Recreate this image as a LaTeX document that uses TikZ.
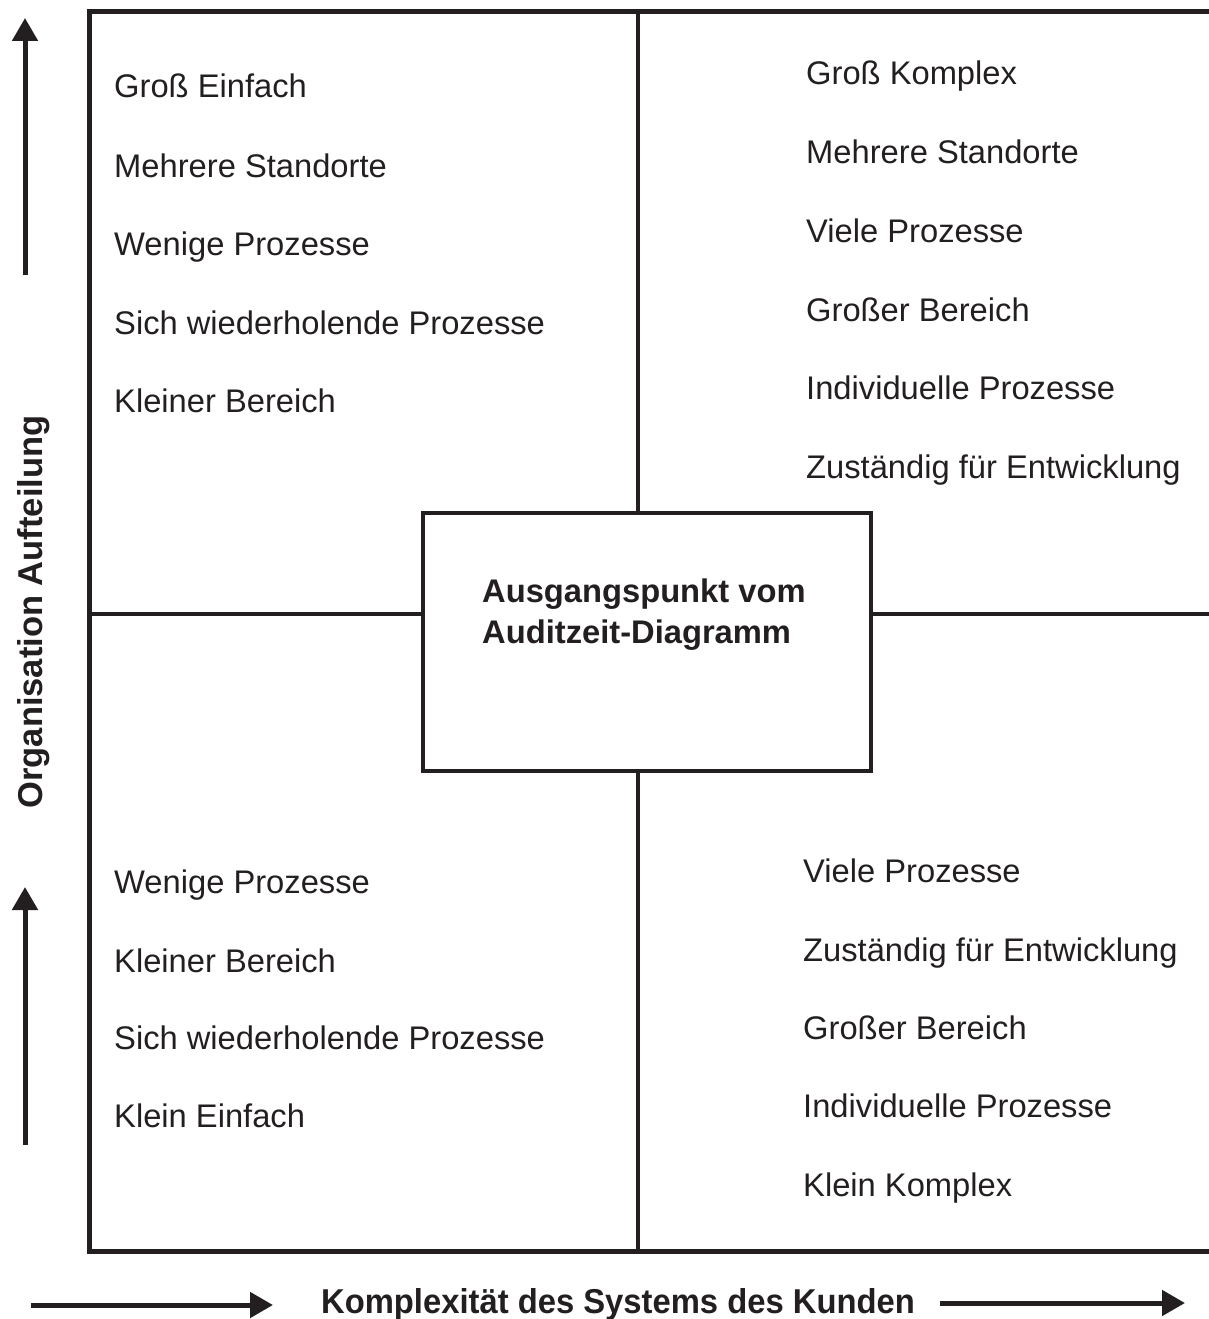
\documentclass[tikz,border=0pt]{standalone}
\usepackage{fontspec}
\setmainfont{Liberation Sans}
\usetikzlibrary{arrows.meta}
\definecolor{ink}{HTML}{231F20}
\begin{document}
\begin{tikzpicture}[x=1pt,y=-1pt,
  frame/.style={draw=ink,line width=5pt,line join=miter},
  divider/.style={draw=ink,line width=4pt},
  axisarrow/.style={draw=ink,line width=5pt,-{Triangle[length=23pt,width=25pt]}},
  item/.style={anchor=base west,inner sep=0pt,text=ink,font=\fontsize{32.7}{39}\selectfont},
  axislabel/.style={anchor=base,inner sep=0pt,text=ink,font=\bfseries\fontsize{34.5}{40}\selectfont},
  centerbox/.style={draw=ink,line width=4pt,minimum width=448pt,minimum height=258pt,inner sep=0pt}
]
\useasboundingbox (0,0) rectangle (1208,1319);
% frame corners
\coordinate (ftr) at (1212,12);
\coordinate (ftl) at (89,12);
\coordinate (fbl) at (89,1251);
\coordinate (fbr) at (1212,1251);
\draw[frame] (ftr) -- (ftl) -- (fbl) -- (fbr);
% center box
\node[centerbox] (cbox) at (647,641.5) {};
\node[item,font=\bfseries\fontsize{32.7}{41}\selectfont] (c1) at (482,602) {Ausgangspunkt vom};
\node[item,font=\bfseries\fontsize{32.7}{41}\selectfont] (c2) at (482,643) {Auditzeit-Diagramm};
% dividers
\coordinate (vt) at (638,12);
\coordinate (vb) at (638,1251);
\coordinate (hl) at (89,614);
\coordinate (hr) at (1212,614);
\draw[divider] (vt) -- (vt |- cbox.north);
\draw[divider] (vb) -- (vb |- cbox.south);
\draw[divider] (hl) -- (hl -| cbox.west);
\draw[divider] (hr) -- (hr -| cbox.east);
% top-left quadrant
\node[item] (a1) at (114,98) {Groß Einfach};
\node[item] (a2) at (114,177) {Mehrere Standorte};
\node[item] (a3) at (114,255) {Wenige Prozesse};
\node[item] (a4) at (114,334) {Sich wiederholende Prozesse};
\node[item] (a5) at (114,412) {Kleiner Bereich};
% top-right quadrant
\node[item] (b1) at (806,85) {Groß Komplex};
\node[item] (b2) at (806,164) {Mehrere Standorte};
\node[item] (b3) at (806,242) {Viele Prozesse};
\node[item] (b4) at (806,321) {Großer Bereich};
\node[item] (b5) at (806,399) {Individuelle Prozesse};
\node[item] (b6) at (806,478) {Zuständig für Entwicklung};
% bottom-left quadrant
\node[item] (d1) at (114,893) {Wenige Prozesse};
\node[item] (d2) at (114,972) {Kleiner Bereich};
\node[item] (d3) at (114,1049) {Sich wiederholende Prozesse};
\node[item] (d4) at (114,1127) {Klein Einfach};
% bottom-right quadrant
\node[item] (e1) at (803,882) {Viele Prozesse};
\node[item] (e2) at (803,961) {Zuständig für Entwicklung};
\node[item] (e3) at (803,1039) {Großer Bereich};
\node[item] (e4) at (803,1117) {Individuelle Prozesse};
\node[item] (e5) at (803,1196) {Klein Komplex};
% axis labels
\node[axislabel,rotate=90] (ylab) at (42,612) {Organisation Aufteilung};
\node[axislabel] (xlab) at (618,1313) {\scalebox{0.95}[1]{Komplexität des Systems des Kunden}};
% axis arrows
\coordinate (ya1s) at (25,275);
\coordinate (ya1e) at (25,18);
\coordinate (ya2s) at (25,1145);
\coordinate (ya2e) at (25,887);
\coordinate (xa1s) at (31,1305);
\coordinate (xa1e) at (273,1305);
\coordinate (xa2s) at (940,1303);
\coordinate (xa2e) at (1185,1303);
\draw[axisarrow] (ya1s) -- (ya1e);
\draw[axisarrow] (ya2s) -- (ya2e);
\draw[axisarrow] (xa1s) -- (xa1e);
\draw[axisarrow] (xa2s) -- (xa2e);
\end{tikzpicture}
\end{document}
